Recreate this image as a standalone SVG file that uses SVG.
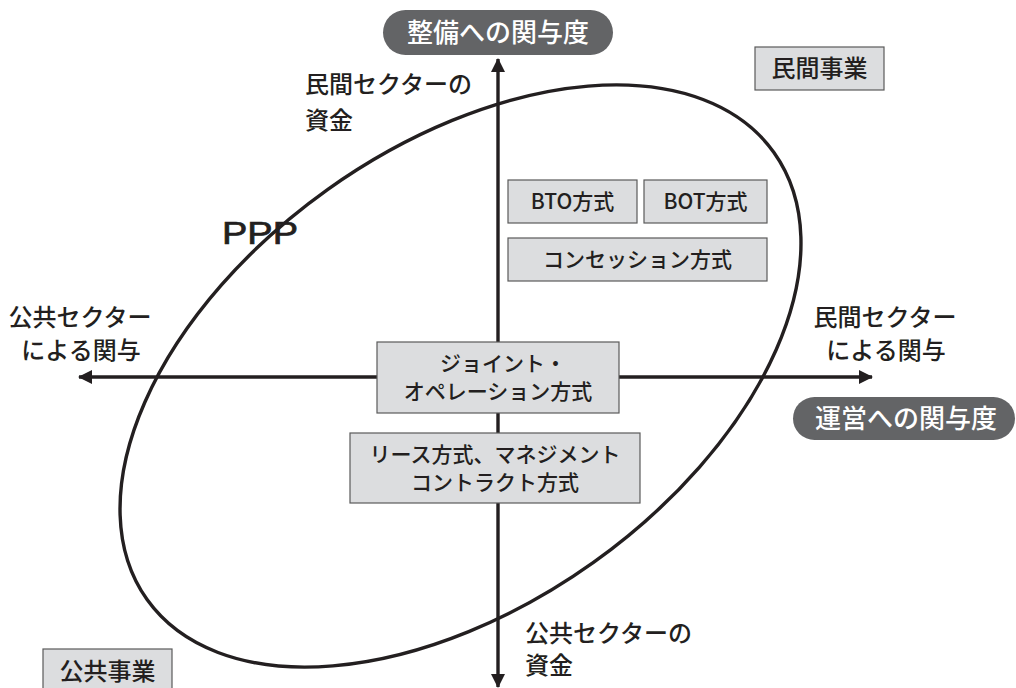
<svg xmlns="http://www.w3.org/2000/svg" width="1016" height="688" viewBox="0 0 1016 688">
  <style>
    .t { font-family: "Noto Sans CJK JP", "Noto Sans", "Liberation Sans", sans-serif; fill: #231f20; font-weight: 500; }
    .lbl { font-size: 24px; }
    .bx { font-size: 21px; }
    .pilltxt { font-family: "Noto Sans CJK JP", "Noto Sans", sans-serif; font-size: 26px; fill: #ffffff; font-weight: 500; }
    .box { fill: #dcdddf; stroke: #5a5a5a; stroke-width: 1.2; }
    .pill { fill: #636466; }
    .axis { stroke: #231f20; stroke-width: 3.4; fill: none; }
  </style>
  <defs>
    <marker id="arr" viewBox="0 0 14 14" refX="13" refY="7" markerWidth="14" markerHeight="14" markerUnits="userSpaceOnUse" orient="auto">
      <path d="M0,0 L14,7 L0,14 Z" fill="#231f20"/>
    </marker>
  </defs>
  <rect width="1016" height="688" fill="#ffffff"/>

  <g id="ppp">
    <ellipse cx="460.5" cy="376" rx="385" ry="229" transform="rotate(-35.5 460.5 376)" fill="none" stroke="#231f20" stroke-width="3.4"/>
    <text x="222" y="244" font-family="'Liberation Sans', sans-serif" font-size="31" fill="#231f20" stroke="#231f20" stroke-width="0.7" textLength="76" lengthAdjust="spacingAndGlyphs">PPP</text>
  </g>

  <g id="connectors">
    <line class="axis" x1="498" y1="377" x2="498" y2="59" marker-end="url(#arr)"/>
    <line class="axis" x1="498" y1="377" x2="498" y2="687" marker-end="url(#arr)"/>
    <line class="axis" x1="498" y1="377" x2="872" y2="377" marker-end="url(#arr)"/>
    <line class="axis" x1="498" y1="377" x2="79" y2="377" marker-end="url(#arr)"/>
  </g>

  <g id="axis-top">
    <rect class="pill" x="383" y="10" width="230" height="45" rx="22.5"/>
    <text class="pilltxt" x="498" y="42" text-anchor="middle">整備への関与度</text>
  </g>
  <g id="axis-right">
    <rect class="pill" x="793" y="397" width="222" height="43" rx="21.5"/>
    <text class="pilltxt" x="906" y="428" text-anchor="middle">運営への関与度</text>
  </g>

  <g id="label-private-fund">
    <text class="t lbl" x="305" y="93">民間セクターの</text>
    <text class="t lbl" x="305" y="129">資金</text>
  </g>
  <g id="label-public-fund">
    <text class="t lbl" x="525" y="642">公共セクターの</text>
    <text class="t lbl" x="525" y="674">資金</text>
  </g>
  <g id="label-public-role">
    <text class="t lbl" x="80" y="326" text-anchor="middle">公共セクター</text>
    <text class="t lbl" x="81" y="359" text-anchor="middle">による関与</text>
  </g>
  <g id="label-private-role">
    <text class="t lbl" x="885" y="326" text-anchor="middle">民間セクター</text>
    <text class="t lbl" x="886" y="359" text-anchor="middle">による関与</text>
  </g>

  <g id="private-project">
    <rect class="box" x="755" y="47" width="129" height="43"/>
    <text class="t lbl" x="819.5" y="77" text-anchor="middle">民間事業</text>
  </g>
  <g id="public-project">
    <rect class="box" x="43" y="649" width="129" height="43"/>
    <text class="t lbl" x="107.5" y="680" text-anchor="middle">公共事業</text>
  </g>

  <g id="bto">
    <rect class="box" x="508" y="180" width="129" height="43"/>
    <text class="t bx" x="572.5" y="209" text-anchor="middle">BTO方式</text>
  </g>
  <g id="bot">
    <rect class="box" x="644" y="180" width="123" height="43"/>
    <text class="t bx" x="705.5" y="209" text-anchor="middle">BOT方式</text>
  </g>
  <g id="concession">
    <rect class="box" x="508" y="238" width="259" height="43"/>
    <text class="t bx" x="637.5" y="267" text-anchor="middle">コンセッション方式</text>
  </g>
  <g id="joint-operation">
    <rect class="box" x="377" y="342" width="242" height="71"/>
    <text class="t bx" x="503" y="371" text-anchor="middle">ジョイント・</text>
    <text class="t bx" x="498" y="399" text-anchor="middle">オペレーション方式</text>
  </g>
  <g id="lease-management">
    <rect class="box" x="350" y="433" width="290" height="70"/>
    <text class="t bx" x="495" y="462" text-anchor="middle">リース方式、マネジメント</text>
    <text class="t bx" x="495" y="490" text-anchor="middle">コントラクト方式</text>
  </g>
</svg>
